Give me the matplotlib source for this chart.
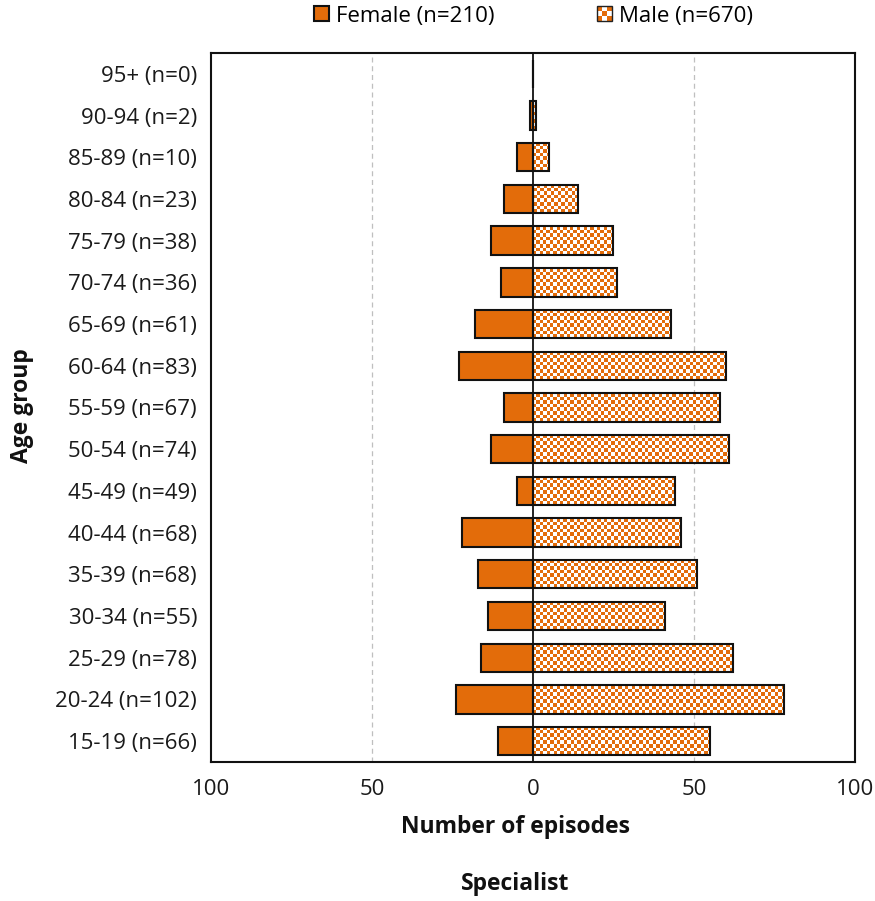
import numpy as np
import matplotlib
matplotlib.use('Agg')
import matplotlib.pyplot as plt
from matplotlib.patches import Rectangle
from matplotlib.colors import ListedColormap
from matplotlib.legend_handler import HandlerBase

# data, bottom row first
age_groups = ['15-19', '20-24', '25-29', '30-34', '35-39', '40-44', '45-49', '50-54',
              '55-59', '60-64', '65-69', '70-74', '75-79', '80-84', '85-89', '90-94', '95+']
female = [11, 24, 16, 14, 17, 22, 5, 13, 9, 23, 18, 10, 13, 9, 5, 1, 0]
male = [55, 78, 62, 41, 51, 46, 44, 61, 58, 60, 43, 26, 25, 14, 5, 1, 0]
x_ticks = [-100, -50, 0, 50, 100]

orange = '#E36C0A'
checker_cmap = ListedColormap(['white', orange])
plt.rcParams['font.family'] = ['Open Sans', 'DejaVu Sans']


def checker(nx, ny):
    return np.add.outer(np.arange(ny), np.arange(nx)) % 2


class HandlerChecker(HandlerBase):
    def create_artists(self, legend, orig_handle, xdescent, ydescent, width, height, fontsize, trans):
        n = 3
        size = height
        x0 = -xdescent + (width - size) / 2
        y0 = -ydescent
        c = size / n
        arts = []
        for i in range(n):
            for j in range(n):
                col = orange if (i + j) % 2 == 0 else 'white'
                arts.append(Rectangle((x0 + j * c, y0 + i * c), c, c, facecolor=col,
                                      edgecolor='none', transform=trans))
        arts.append(Rectangle((x0, y0), size, size, facecolor='none', edgecolor='#222222',
                              lw=1.0, transform=trans))
        return arts


fig = plt.figure(figsize=(8.75, 9.01), dpi=100)
ax = fig.add_axes([0.2411, 0.1543, 0.977 - 0.2411, 0.9412 - 0.1543])

y = np.arange(len(age_groups))
h = 0.68
ax.set_xlim(-100, 100)
ax.set_ylim(-0.5, len(age_groups) - 0.5)

ax.axvline(-50, color='#BFBFBF', lw=0.9, ls=(0, (4, 3)), zorder=1)
ax.axvline(50, color='#BFBFBF', lw=0.9, ls=(0, (4, 3)), zorder=1)

fem = ax.barh(y, [-v for v in female], height=h, color=orange, edgecolor='#111111',
              lw=1.5, zorder=3)

# checkered male bars
fig.canvas.draw()
px_x = ax.transData.transform((1, 0))[0] - ax.transData.transform((0, 0))[0]
px_y = ax.transData.transform((0, 1))[1] - ax.transData.transform((0, 0))[1]
cell = 3.4
for yi, v in zip(y, male):
    if v <= 0:
        continue
    nx = max(1, int(round(v * px_x / cell)))
    ny = max(1, int(round(h * px_y / cell)))
    ax.imshow(checker(nx, ny), extent=(0, v, yi - h / 2, yi + h / 2), aspect='auto',
              interpolation='nearest', cmap=checker_cmap, vmin=0, vmax=1, zorder=2)
ax.barh(y, male, height=h, color='none', edgecolor='#111111', lw=1.5, zorder=3)
ax.set_xlim(-100, 100)
ax.set_ylim(-0.5, len(age_groups) - 0.5)
ax.set_aspect('auto')

ax.axvline(0, color='#111111', lw=1.3, zorder=4)

ax.set_yticks(y)
ax.set_yticklabels(['%s (n=%d)' % (g, f + m) for g, f, m in zip(age_groups, female, male)])
ax.set_xticks(x_ticks)
ax.set_xticklabels([str(abs(t)) for t in x_ticks])
ax.tick_params(axis='x', length=0, pad=12, labelsize=16, colors='#1a1a1a')
ax.tick_params(axis='y', length=0, pad=10, labelsize=16, colors='#1a1a1a')
for s in ax.spines.values():
    s.set_linewidth(1.5)
    s.set_color('#111111')

fig.text(0.589, 0.082, 'Number of episodes', ha='center', va='center',
         fontsize=16.5, fontweight='bold', color='#111111')
fig.text(0.589, 0.019, 'Specialist', ha='center', va='center',
         fontsize=16.5, fontweight='bold', color='#111111')
fig.text(0.025, 0.55, 'Age group', ha='center', va='center', rotation=90,
         fontsize=16.5, fontweight='bold', color='#111111')

male_handle = Rectangle((0, 0), 1, 1)
fig.legend([fem, male_handle], ['Female (n=%d)' % sum(female), 'Male (n=%d)' % sum(male)],
           handler_map={male_handle: HandlerChecker()},
           loc='center', bbox_to_anchor=(0.61, 0.982), ncol=2, frameon=False,
           fontsize=16, handlelength=0.65, handleheight=0.65, handletextpad=0.35,
           columnspacing=4.6, borderpad=0)

fig.savefig('out.png', dpi=100)
